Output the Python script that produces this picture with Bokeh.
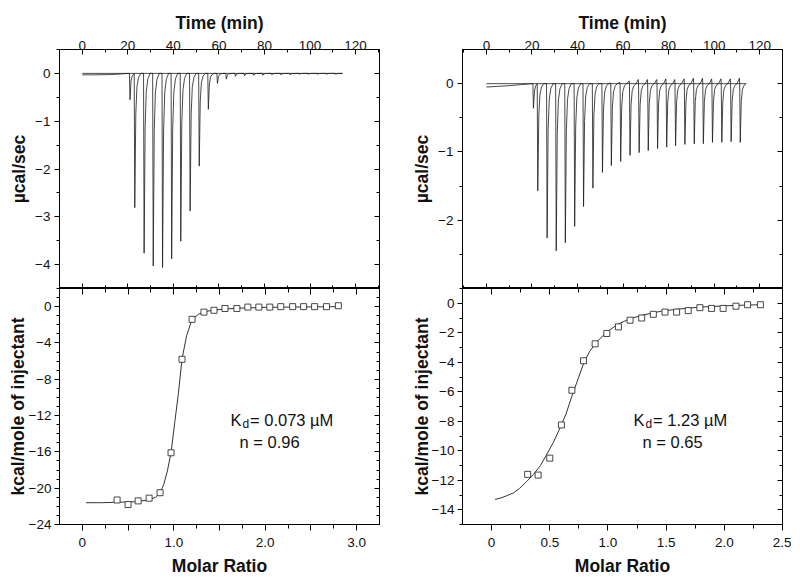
from bokeh.plotting import figure
from bokeh.models import LinearAxis, SingleIntervalTicker, FixedTicker, Label, Range1d, Grid
from bokeh.layouts import row, column
from bokeh.embed import file_html
from bokeh.resources import INLINE

FONT = "Liberation Sans"
INK = "#111111"

# ---------------- panel (a): raw thermogram ----------------
a_pre_time = [0.0, 5.0, 12.0, 17.0, 20.0]
a_pre_power = [-0.03, -0.03, -0.025, -0.012, 0.0]
a_inj_time = [20.7, 22.8, 26.9, 30.9, 35.0, 39.0, 43.0, 47.1, 51.1, 55.1, 59.1, 63.0,
              67.0, 71.0, 75.0, 79.0, 83.0, 87.0, 91.0, 95.0, 99.0, 103.0, 107.0, 111.0]
a_inj_peak = [-0.55, -2.81, -3.76, -4.03, -4.06, -3.88, -3.51, -2.88, -1.94, -0.75, -0.21, -0.12,
              -0.06, -0.05, -0.04, -0.04, -0.03, -0.03, -0.03, -0.02, -0.02, -0.02, -0.02, -0.02]
a_inj_blip = [0.0] * 24
a_end_time = 114.3
a_baseline_time = [0.0, 114.3]
a_baseline_power = [0.0, 0.0]

# ---------------- panel (a): integrated heats ----------------
a_ratio = [0.38, 0.50, 0.61, 0.73, 0.85, 0.97, 1.09, 1.20, 1.33, 1.44, 1.56,
           1.69, 1.81, 1.93, 2.05, 2.17, 2.30, 2.42, 2.54, 2.67, 2.80]
a_heat = [-21.3, -21.8, -21.4, -21.1, -20.5, -16.1, -5.8, -1.4, -0.6, -0.4, -0.2,
          -0.2, -0.05, -0.05, -0.05, 0.0, 0.0, 0.0, 0.0, 0.0, 0.1]
a_fit_ratio = [0.04, 0.21, 0.39, 0.57, 0.72, 0.80, 0.85, 0.89, 0.93, 0.97, 1.01, 1.05, 1.09,
               1.14, 1.20, 1.27, 1.34, 1.45, 1.67, 2.03, 2.80]
a_fit_heat = [-21.6, -21.6, -21.55, -21.5, -21.3, -21.0, -20.5, -19.6, -18.1, -16.1, -12.8,
              -9.6, -5.8, -3.2, -1.4, -0.84, -0.55, -0.36, -0.18, -0.07, 0.0]
a_ratio_ticks = [0, 0.5, 1.0, 1.5, 2.0, 2.5, 3.0]
a_ratio_tick_labels = ["0", "", "1.0", "", "2.0", "", "3.0"]
a_ratio_minor = [0.25, 0.75, 1.25, 1.75, 2.25, 2.75]

# ---------------- panel (b): raw thermogram ----------------
b_pre_time = [0.0, 5.0, 10.0, 15.0, 20.0]
b_pre_power = [-0.05, -0.04, -0.03, -0.015, 0.0]
b_inj_time = [20.4, 22.3, 26.4, 30.4, 34.4, 38.5, 42.4, 46.5, 50.7, 54.6, 58.7, 62.8,
              66.8, 70.8, 74.9, 78.9, 82.8, 86.9, 91.0, 95.0, 99.0, 103.1, 107.2, 111.2]
b_inj_peak = [-0.36, -1.57, -2.26, -2.45, -2.33, -2.09, -1.80, -1.53, -1.30, -1.20, -1.14, -1.05,
              -1.01, -0.98, -0.95, -0.93, -0.91, -0.89, -0.88, -0.88, -0.86, -0.86, -0.85, -0.86]
b_inj_blip = [0.0, 0.0, 0.0, 0.0, 0.0, 0.0, 0.0, 0.0, 0.0, 0.01, 0.02, 0.04,
              0.06, 0.06, 0.06, 0.07, 0.06, 0.07, 0.08, 0.08, 0.07, 0.07, 0.07, 0.08]
b_end_time = 114.0
b_baseline_time = [0.0, 114.0]
b_baseline_power = [0.0, 0.0]

# ---------------- panel (b): integrated heats ----------------
b_ratio = [0.31, 0.40, 0.50, 0.60, 0.69, 0.79, 0.89, 0.99, 1.09, 1.19, 1.29,
           1.39, 1.49, 1.59, 1.69, 1.79, 1.89, 1.99, 2.10, 2.20, 2.31]
b_heat = [-11.6, -11.65, -10.5, -8.25, -5.9, -3.9, -2.75, -2.05, -1.6, -1.15, -1.0,
          -0.75, -0.6, -0.6, -0.5, -0.3, -0.35, -0.35, -0.2, -0.1, -0.1]
b_fit_ratio = [0.03, 0.08, 0.13, 0.19, 0.24, 0.30, 0.36, 0.42, 0.47, 0.53, 0.58, 0.64,
               0.69, 0.74, 0.79, 0.84, 0.90, 0.99, 1.09, 1.19, 1.30, 1.45, 1.60, 1.79,
               2.08, 2.31]
b_fit_heat = [-13.3, -13.2, -13.05, -12.85, -12.55, -12.1, -11.6, -11.0, -10.3, -9.45, -8.6,
              -7.5, -6.3, -5.2, -4.1, -3.3, -2.65, -1.95, -1.4, -1.05, -0.8, -0.55, -0.4,
              -0.26, -0.15, -0.1]
b_ratio_ticks = [0, 0.5, 1.0, 1.5, 2.0, 2.5]
b_ratio_tick_labels = ["0", "0.5", "1.0", "1.5", "2.0", "2.5"]
b_ratio_minor = [0.25, 0.75, 1.25, 1.75, 2.25]
b_power_ticks = [-2, -1, 0]
b_power_minor = [-2.5, -1.5, -0.5]

# shape of one injection peak (time offset, fraction of peak depth)
SPIKE_DT = [0.0, 0.25, 0.7, 1.2, 1.9, 2.9]
SPIKE_FRAC = [0.0, 1.0, 0.3, 0.1, 0.03, 0.0]


def thermogram(pre_t, pre_v, inj_t, inj_pk, inj_blip, end_t):
    xs, ys = list(pre_t), list(pre_v)
    for i, (t, pk, bl) in enumerate(zip(inj_t, inj_pk, inj_blip)):
        nxt = inj_t[i + 1] if i + 1 < len(inj_t) else end_t
        if bl:
            xs.append(t - 0.12)
            ys.append(bl)
        for dt, f in zip(SPIKE_DT, SPIKE_FRAC):
            if t + dt < nxt - 0.15:
                xs.append(t + dt)
                ys.append(pk * f)
    xs.append(end_t)
    ys.append(0.0)
    return xs, ys


def make_fig(w, h, xr, yr, bl, br, bt, bb):
    p = figure(width=w, height=h, x_range=Range1d(*xr), y_range=Range1d(*yr),
               x_axis_type=None, y_axis_type=None, tools="",
               toolbar_location=None, output_backend="svg",
               min_border_left=bl, min_border_right=br,
               min_border_top=bt, min_border_bottom=bb)
    p.center = [r for r in p.center if not isinstance(r, Grid)]
    p.outline_line_color = "black"
    p.outline_line_width = 1
    p.outline_line_alpha = 1
    p.background_fill_color = "white"
    p.border_fill_color = "white"
    return p


def add_axis(p, place, ticker, label=None, tick_in=0, tick_out=0, minor_in=0, minor_out=0,
             show_labels=True, standoff=4, label_standoff=3, overrides=None):
    ax = LinearAxis(ticker=ticker)
    ax.axis_line_color = "black"
    ax.axis_line_width = 1
    ax.major_tick_in = tick_in
    ax.major_tick_out = tick_out
    ax.minor_tick_in = minor_in
    ax.minor_tick_out = minor_out
    ax.major_tick_line_color = "black"
    ax.minor_tick_line_color = "black"
    if show_labels:
        ax.major_label_text_font = FONT
        ax.major_label_text_font_size = "13.5px"
        ax.major_label_text_color = INK
        ax.major_label_standoff = standoff
        if overrides:
            ax.major_label_overrides = overrides
    else:
        ax.major_label_text_font_size = "0px"
        ax.major_label_text_color = None
        ax.major_label_standoff = 0
    if label:
        ax.axis_label = label
        ax.axis_label_text_font = FONT
        ax.axis_label_text_font_size = "17.5px"
        ax.axis_label_text_font_style = "bold"
        ax.axis_label_text_color = INK
        ax.axis_label_standoff = label_standoff
    p.add_layout(ax, place)
    return ax


def add_text(p, x, y, text, size, bold=False):
    p.add_layout(Label(x=x, y=y, x_units="screen", y_units="screen", text=text,
                       text_font=FONT, text_font_size=size,
                       text_font_style="bold" if bold else "normal",
                       text_color=INK, text_baseline="alphabetic", text_align="left"))


def top_panel(w, bl, br, xr, yr, yticker_fn, pre_t, pre_v, inj_t, inj_pk, inj_blip, end_t,
              base_t, base_v, tag, tag_x, ylab_standoff):
    p = make_fig(w, 288, xr, yr, bl, br, 49, 0)
    add_axis(p, "above", SingleIntervalTicker(interval=20, num_minor_ticks=2), "Time (min)",
             tick_in=5, minor_in=3, standoff=0, label_standoff=5)
    add_axis(p, "below", SingleIntervalTicker(interval=20, num_minor_ticks=2),
             tick_in=5, minor_in=3, show_labels=False)
    add_axis(p, "left", yticker_fn(), "\u00b5cal/sec", tick_out=5, minor_out=3,
             standoff=4, label_standoff=ylab_standoff)
    add_axis(p, "right", yticker_fn(), tick_in=5, minor_in=3, show_labels=False)
    p.line(base_t, base_v, line_color="#222222", line_width=0.8)
    xs, ys = thermogram(pre_t, pre_v, inj_t, inj_pk, inj_blip, end_t)
    p.line(xs, ys, line_color="#1a1a1a", line_width=0.8)
    add_text(p, tag_x, 257.5, tag, "18px", bold=True)
    return p


def bottom_panel(w, bl, br, xr, yr, xticks, xlabels, xminor, yticker_fn, ratio, heat,
                 fit_r, fit_h, kd_text, n_text, ylab_standoff):
    p = make_fig(w, 290, xr, yr, bl, br, 0, 52)
    overrides = dict(zip(xticks, xlabels))
    add_axis(p, "below", FixedTicker(ticks=xticks, minor_ticks=xminor), "Molar Ratio",
             tick_out=6, minor_out=4, standoff=7, label_standoff=6, overrides=overrides)
    add_axis(p, "above", FixedTicker(ticks=xticks, minor_ticks=xminor),
             tick_in=6, minor_in=4, show_labels=False)
    add_axis(p, "left", yticker_fn(), "kcal/mole of injectant", tick_out=5, minor_out=3,
             standoff=3, label_standoff=ylab_standoff)
    add_axis(p, "right", yticker_fn(), tick_in=5, minor_in=3, show_labels=False)
    p.line(fit_r, fit_h, line_color="#333333", line_width=1)
    p.scatter(ratio, heat, marker="square", size=6, fill_color="white",
              line_color="#333333", line_width=0.9)
    add_text(p, 171, 104.5, "K", "16.5px")
    add_text(p, 183, 100.5, "d", "12px")
    add_text(p, 190.5, 104.5, kd_text, "16.5px")
    add_text(p, 180, 82.7, n_text, "16.5px")
    return p


A_top = top_panel(398, 59, 19, (-10, 130.5), (-4.5, 0.5),
                  lambda: SingleIntervalTicker(interval=1, num_minor_ticks=2),
                  a_pre_time, a_pre_power, a_inj_time, a_inj_peak, a_inj_blip, a_end_time,
                  a_baseline_time, a_baseline_power, "(a)", -37.5, 3)
A_bot = bottom_panel(398, 59, 19, (-0.25, 3.25), (-24, 2), a_ratio_ticks, a_ratio_tick_labels,
                     a_ratio_minor, lambda: SingleIntervalTicker(interval=4, num_minor_ticks=4),
                     a_ratio, a_heat, a_fit_ratio, a_fit_heat, "= 0.073 \u00b5M", "n = 0.96", -2)

B_top = top_panel(393, 64, 9, (-10.5, 130), (-3, 0.5),
                  lambda: FixedTicker(ticks=b_power_ticks, minor_ticks=b_power_minor),
                  b_pre_time, b_pre_power, b_inj_time, b_inj_peak, b_inj_blip, b_end_time,
                  b_baseline_time, b_baseline_power, "(b)", -34, 3)
B_bot = bottom_panel(393, 64, 9, (-0.25, 2.5), (-15, 1), b_ratio_ticks, b_ratio_tick_labels,
                     b_ratio_minor, lambda: SingleIntervalTicker(interval=2, num_minor_ticks=2),
                     b_ratio, b_heat, b_fit_ratio, b_fit_heat, "= 1.23 \u00b5M", "n = 0.65", -3)

layout = row(column(A_top, A_bot), column(B_top, B_bot))

with open("out.html", "w") as f:
    f.write(file_html(layout, INLINE))
